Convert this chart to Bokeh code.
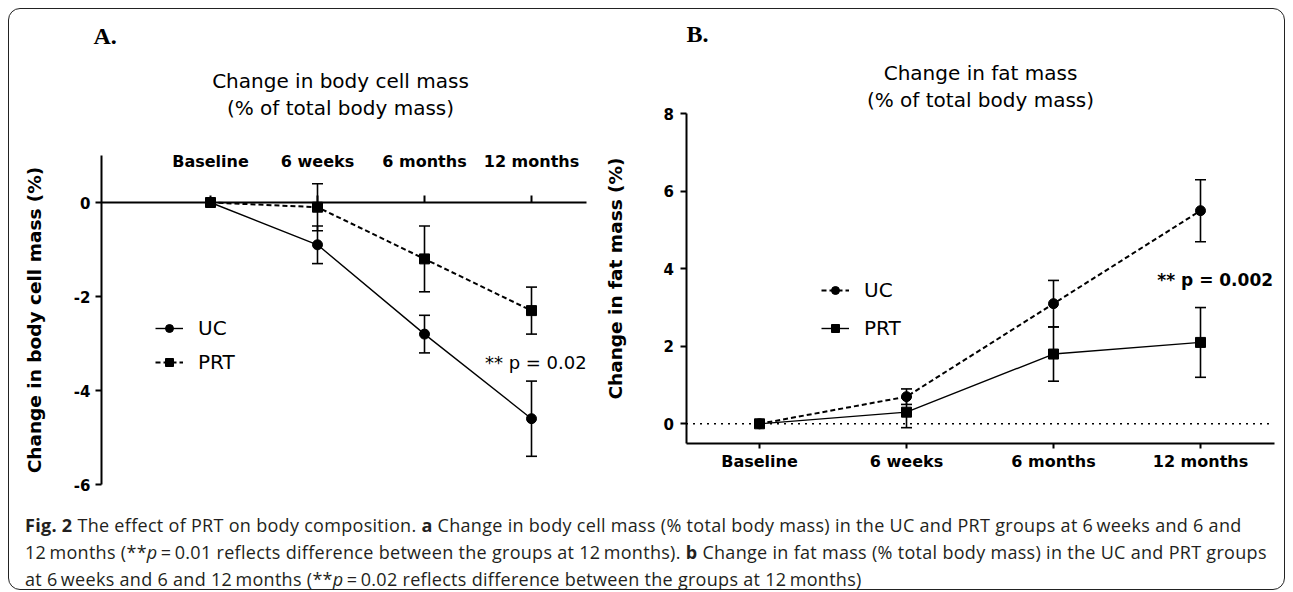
from bokeh.plotting import figure
from bokeh.models import (ColumnDataSource, Whisker, TeeHead, LinearAxis, FixedTicker,
                          Label, Legend, LegendItem, Div, Grid, GlobalInlineStyleSheet)
from bokeh.layouts import row, column
from bokeh.embed import file_html
from bokeh.resources import INLINE

# ---------------- data ----------------
categories = ["Baseline", "6 weeks", "6 months", "12 months"]
timepoints = [1, 2, 3, 4]

# Panel A: change in body cell mass (% of total body mass)
a_uc_mean = [0.0, -0.9, -2.8, -4.6]
a_uc_sem = [0.0, 0.4, 0.4, 0.8]
a_prt_mean = [0.0, -0.1, -1.2, -2.3]
a_prt_sem = [0.0, 0.5, 0.7, 0.5]
a_yticks = [-6, -4, -2, 0]
a_ytick_labels = ["-6", "-4", "-2", "0"]

# Panel B: change in fat mass (% of total body mass)
b_uc_mean = [0.0, 0.7, 3.1, 5.5]
b_uc_sem = [0.0, 0.2, 0.6, 0.8]
b_prt_mean = [0.0, 0.3, 1.8, 2.1]
b_prt_sem = [0.0, 0.4, 0.7, 0.9]
b_yticks = [0, 2, 4, 6, 8]
b_ytick_labels = ["0", "2", "4", "6", "8"]

SANS = "DejaVu Sans"
SERIF = "Liberation Serif"
label_overrides = {t: c for t, c in zip(timepoints, categories)}

# ---------------- page geometry (pixels) ----------------
# each figure's frame covers its whole canvas; axes are placed at fixed data locations
GA = dict(left=9, top=9, w=592, h=498, x1=210.0, xs=107.0, y0=202.0, ys=47.0)
GB = dict(left=601, top=9, w=683, h=498, x1=759.0, xs=147.0, y0=423.3, ys=38.75)


def dx(g, px):
    return 1 + (px - g["x1"]) / g["xs"]


def dy(g, py):
    return (g["y0"] - py) / g["ys"]


def make_fig(g):
    p = figure(width=g["w"], height=g["h"],
               x_range=(dx(g, g["left"]), dx(g, g["left"] + g["w"])),
               y_range=(dy(g, g["top"] + g["h"]), dy(g, g["top"])),
               output_backend="svg", toolbar_location=None,
               x_axis_location=None, y_axis_location=None,
               min_border=0, min_border_left=0, min_border_right=0,
               min_border_top=0, min_border_bottom=0)
    p.outline_line_color = None
    p.background_fill_color = None
    p.border_fill_color = None
    return p


def hide_grids(p):
    for r in p.center:
        if isinstance(r, Grid):
            r.visible = False


def add_series(p, mean, sem, marker, dash, lw):
    src = ColumnDataSource(dict(x=timepoints, y=mean))
    idx = [i for i, s in enumerate(sem) if s > 0]
    wsrc = ColumnDataSource(dict(x=[timepoints[i] for i in idx],
                                 upper=[mean[i] + sem[i] for i in idx],
                                 lower=[mean[i] - sem[i] for i in idx]))
    line = p.line("x", "y", source=src, line_color="black", line_width=lw, line_dash=dash)
    w = Whisker(base="x", upper="upper", lower="lower", source=wsrc, line_color="black",
                line_width=1.6,
                upper_head=TeeHead(size=11, line_color="black", line_width=1.6),
                lower_head=TeeHead(size=11, line_color="black", line_width=1.6))
    p.add_layout(w)
    sc = p.scatter("x", "y", source=src, marker=marker, size=10,
                   fill_color="black", line_color="black")
    return line, sc


def style_axis(ax, size="15px"):
    ax.axis_line_color = "black"
    ax.axis_line_width = 2
    ax.major_tick_line_color = "black"
    ax.major_tick_line_width = 2
    ax.minor_tick_line_color = None
    ax.major_tick_in = 0
    ax.major_tick_out = 6
    ax.major_label_text_font = SANS
    ax.major_label_text_font_style = "bold"
    ax.major_label_text_font_size = size
    ax.major_label_text_color = "black"
    ax.axis_label_text_font = SANS
    ax.axis_label_text_font_style = "bold"
    ax.axis_label_text_font_size = "18.5px"
    ax.axis_label_text_color = "black"


def text(p, g, px, py, t, size, style="normal", align="center", font=SANS):
    p.add_layout(Label(x=dx(g, px), y=dy(g, py), text=t,
                       text_font=font, text_font_size=size, text_font_style=style,
                       text_align=align, text_baseline="middle", text_color="black"))


def make_legend(p, items, loc, spacing):
    lg = Legend(items=items, location=loc, border_line_color=None,
                background_fill_alpha=0, padding=0, margin=0, spacing=spacing,
                glyph_width=28, glyph_height=20, label_height=20, label_standoff=15,
                label_text_font=SANS, label_text_font_size="20px",
                label_text_color="black", label_text_baseline="middle")
    p.add_layout(lg, "center")


# ---------------- panel A ----------------
pA = make_fig(GA)
hide_grids(pA)
a_xleft, a_xright = dx(GA, 101), dx(GA, 586)

axA_x = LinearAxis(fixed_location=0, bounds=(a_xleft, a_xright),
                   ticker=FixedTicker(ticks=timepoints),
                   major_label_overrides=label_overrides)
style_axis(axA_x, "16px")
axA_x.major_tick_out = 7
axA_x.major_label_standoff = 25
pA.add_layout(axA_x, "above")

axA_y = LinearAxis(fixed_location=a_xleft, bounds=(a_yticks[0], 1),
                   ticker=FixedTicker(ticks=a_yticks),
                   major_label_overrides=dict(zip(a_yticks, a_ytick_labels)),
                   axis_label="Change in body cell mass (%)")
style_axis(axA_y)
axA_y.major_label_standoff = 5
axA_y.axis_label_standoff = 26
pA.add_layout(axA_y, "left")

la_uc, sa_uc = add_series(pA, a_uc_mean, a_uc_sem, "circle", "solid", 1.4)
la_prt, sa_prt = add_series(pA, a_prt_mean, a_prt_sem, "square", "5 3", 2)
make_legend(pA, [LegendItem(label="UC", renderers=[la_uc, sa_uc]),
                 LegendItem(label="PRT", renderers=[la_prt, sa_prt])], (146, 133), 10)

text(pA, GA, 93, 35, "A.", "24px", "bold", "left", SERIF)
text(pA, GA, 340, 80, "Change in body cell mass", "20px")
text(pA, GA, 340, 107, "(% of total body mass)", "20px")
pA.add_layout(Label(x=4.04, y=-3.4, text="** p = 0.02", text_font=SANS,
                    text_font_size="18px", text_align="center", text_baseline="middle",
                    text_color="black"))

# ---------------- panel B ----------------
pB = make_fig(GB)
hide_grids(pB)
b_xleft, b_xright = 0.5, 4.5
b_ybottom = -0.5

axB_x = LinearAxis(fixed_location=b_ybottom, bounds=(b_xleft, b_xright),
                   ticker=FixedTicker(ticks=timepoints),
                   major_label_overrides=label_overrides)
style_axis(axB_x, "16px")
axB_x.major_tick_out = 5
axB_x.major_label_standoff = 4
pB.add_layout(axB_x, "below")

axB_y = LinearAxis(fixed_location=b_xleft, bounds=(b_ybottom, b_yticks[-1]),
                   ticker=FixedTicker(ticks=b_yticks),
                   major_label_overrides=dict(zip(b_yticks, b_ytick_labels)),
                   axis_label="Change in fat mass (%)")
style_axis(axB_y)
axB_y.major_label_standoff = 6
axB_y.axis_label_standoff = 35
pB.add_layout(axB_y, "left")

# dotted zero reference line across the plotting area
pB.line([b_xleft, b_xright], [0, 0], line_color="black", line_width=1.6, line_dash="2 5")

lb_uc, sb_uc = add_series(pB, b_uc_mean, b_uc_sem, "circle", "5 3", 2)
lb_prt, sb_prt = add_series(pB, b_prt_mean, b_prt_sem, "square", "solid", 1.4)
make_legend(pB, [LegendItem(label="UC", renderers=[lb_uc, sb_uc]),
                 LegendItem(label="PRT", renderers=[lb_prt, sb_prt])], (220, 167), 14)

text(pB, GB, 686, 33, "B.", "24px", "bold", "left", SERIF)
text(pB, GB, 980, 72, "Change in fat mass", "20px")
text(pB, GB, 980, 99, "(% of total body mass)", "20px")
pB.add_layout(Label(x=4.10, y=3.7, text="** p = 0.002", text_font=SANS,
                    text_font_size="17px", text_font_style="bold",
                    text_align="center", text_baseline="middle", text_color="black"))

# ---------------- caption ----------------
caption = ('<b>Fig. 2</b> The effect of PRT on body composition. <b>a</b> Change in body cell mass '
           '(% total body mass) in the UC and PRT groups at 6&#8201;weeks and 6 and<br>'
           '12&#8201;months (**<i>p</i>&#8201;=&#8201;0.01 reflects difference between the groups at '
           '12&#8201;months). <b>b</b> Change in fat mass (% total body mass) in the UC and PRT groups<br>'
           'at 6&#8201;weeks and 6 and 12&#8201;months (**<i>p</i>&#8201;=&#8201;0.02 reflects difference '
           'between the groups at 12&#8201;months)')
div = Div(text=caption, width=1275, height=82,
          styles={"font-family": "'Open Sans', sans-serif", "font-size": "18px",
                  "letter-spacing": "0.3px",
                  "line-height": "27px", "padding-top": "0px", "padding-left": "11px",
                  "white-space": "nowrap", "color": "#231f20", "overflow": "visible"})

layout = column(row(pA, pB), div, width=1277, height=582, margin=(8, 8, 0, 8),
                styles={"border": "1px solid #222", "border-radius": "12px",
                        "background": "white", "box-sizing": "border-box"},
                stylesheets=[GlobalInlineStyleSheet(css="html, body {overflow: hidden;}")])

open("out.html", "w").write(file_html(layout, INLINE))
